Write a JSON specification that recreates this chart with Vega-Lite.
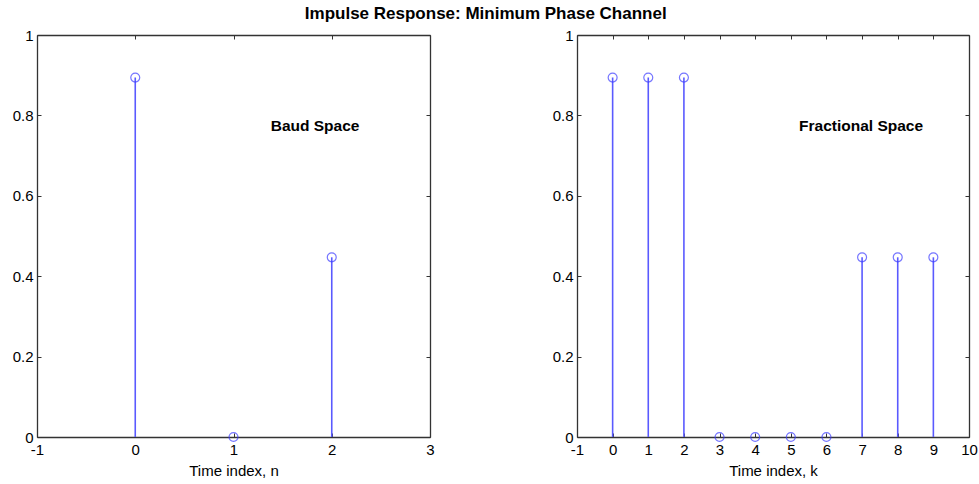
{
  "$schema": "https://vega.github.io/schema/vega-lite/v6.json",
  "padding": {"left": 12, "top": 5, "right": 5, "bottom": 5},
  "background": "white",
  "bounds": "flush",
  "spacing": 147,
  "title": {
    "text": "Impulse Response: Minimum Phase Channel",
    "font": "Liberation Sans",
    "fontSize": 17,
    "fontWeight": "bold",
    "color": "black",
    "anchor": "middle",
    "dx": -9,
    "offset": 5
  },
  "config": {
    "view": {"stroke": null},
    "axis": {
      "grid": false,
      "domainColor": "#333333",
      "domainWidth": 1.3,
      "tickColor": "#333333",
      "tickSize": -4,
      "labelFont": "Liberation Sans",
      "labelFontSize": 15,
      "labelColor": "black",
      "labelFlush": false,
      "titleFont": "Liberation Sans",
      "titleFontSize": 15,
      "titleFontWeight": "normal",
      "titleColor": "black"
    },
    "axisX": {"labelPadding": 9, "labelFlush": false},
    "axisY": {"labelPadding": 8}
  },
  "hconcat": [
    {
      "width": 393,
      "height": 402,
      "data": {"values": [
        {"n": 0, "h": 0.894},
        {"n": 1, "h": 0},
        {"n": 2, "h": 0.447}
      ]},
      "layer": [
        {
          "mark": {"type": "rule", "color": "#5a5aff", "strokeWidth": 1.6},
          "encoding": {
            "x": {"field": "n", "type": "quantitative",
                  "scale": {"domain": [-1, 3], "nice": false, "zero": false},
                  "axis": {"orient": "bottom", "values": [-1, 0, 1, 2, 3], "labelExpr": "'' + datum.value", "labelFlush": false, "title": "Time index, n", "titlePadding": 6}},
            "y": {"field": "h", "type": "quantitative",
                  "scale": {"domain": [0, 1], "nice": false},
                  "axis": {"orient": "left", "values": [0, 0.2, 0.4, 0.6, 0.8, 1], "format": "~g", "title": null}},
            "y2": {"datum": 0}
          }
        },
        {
          "mark": {"type": "point", "shape": "circle", "filled": false, "color": "#3c3cff", "size": 80, "strokeWidth": 1.2},
          "encoding": {
            "x": {"field": "n", "type": "quantitative",
                  "axis": {"orient": "top", "values": [-1, 0, 1, 2, 3], "labels": false, "title": null}},
            "y": {"field": "h", "type": "quantitative",
                  "axis": {"orient": "right", "values": [0, 0.2, 0.4, 0.6, 0.8, 1], "labels": false, "title": null}}
          }
        },
        {
          "data": {"values": [{"label": "Baud Space"}]},
          "mark": {"type": "text", "font": "Liberation Sans", "fontSize": 15.5, "fontWeight": "bold", "color": "black", "align": "center", "baseline": "middle"},
          "encoding": {
            "x": {"datum": 1.83, "type": "quantitative", "axis": null},
            "y": {"datum": 0.774, "type": "quantitative", "axis": null},
            "text": {"field": "label"}
          }
        }
      ],
      "resolve": {"axis": {"x": "independent", "y": "independent"}}
    },
    {
      "width": 392,
      "height": 402,
      "data": {"values": [
        {"k": 0, "h": 0.894},
        {"k": 1, "h": 0.894},
        {"k": 2, "h": 0.894},
        {"k": 3, "h": 0},
        {"k": 4, "h": 0},
        {"k": 5, "h": 0},
        {"k": 6, "h": 0},
        {"k": 7, "h": 0.447},
        {"k": 8, "h": 0.447},
        {"k": 9, "h": 0.447}
      ]},
      "layer": [
        {
          "mark": {"type": "rule", "color": "#5a5aff", "strokeWidth": 1.6},
          "encoding": {
            "x": {"field": "k", "type": "quantitative",
                  "scale": {"domain": [-1, 10], "nice": false, "zero": false},
                  "axis": {"orient": "bottom", "values": [-1, 0, 1, 2, 3, 4, 5, 6, 7, 8, 9, 10], "labelExpr": "'' + datum.value", "labelFlush": false, "title": "Time index, k", "titlePadding": 6}},
            "y": {"field": "h", "type": "quantitative",
                  "scale": {"domain": [0, 1], "nice": false},
                  "axis": {"orient": "left", "values": [0, 0.2, 0.4, 0.6, 0.8, 1], "format": "~g", "title": null}},
            "y2": {"datum": 0}
          }
        },
        {
          "mark": {"type": "point", "shape": "circle", "filled": false, "color": "#3c3cff", "size": 80, "strokeWidth": 1.2},
          "encoding": {
            "x": {"field": "k", "type": "quantitative",
                  "axis": {"orient": "top", "values": [-1, 0, 1, 2, 3, 4, 5, 6, 7, 8, 9, 10], "labels": false, "title": null}},
            "y": {"field": "h", "type": "quantitative",
                  "axis": {"orient": "right", "values": [0, 0.2, 0.4, 0.6, 0.8, 1], "labels": false, "title": null}}
          }
        },
        {
          "data": {"values": [{"label": "Fractional Space"}]},
          "mark": {"type": "text", "font": "Liberation Sans", "fontSize": 15.5, "fontWeight": "bold", "color": "black", "align": "center", "baseline": "middle"},
          "encoding": {
            "x": {"datum": 6.97, "type": "quantitative", "axis": null},
            "y": {"datum": 0.774, "type": "quantitative", "axis": null},
            "text": {"field": "label"}
          }
        }
      ],
      "resolve": {"axis": {"x": "independent", "y": "independent"}}
    }
  ]
}
